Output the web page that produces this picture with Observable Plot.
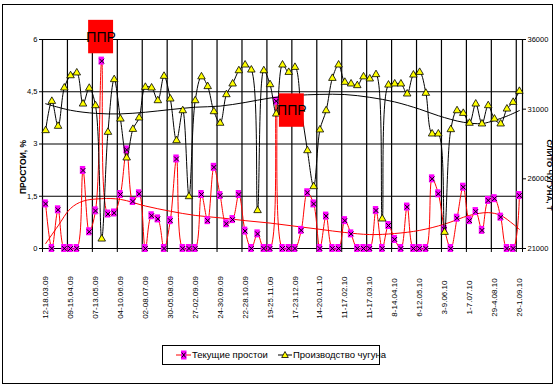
<!DOCTYPE html>
<html><head><meta charset="utf-8">
<script src="https://cdn.jsdelivr.net/npm/d3@7"></script>
<script src="https://cdn.jsdelivr.net/npm/@observablehq/plot@0.6"></script>
<style>
body{margin:0;background:#fff;}
#wrap{position:relative;width:558px;height:388px;overflow:hidden;font-family:"Liberation Sans Narrow","Arial Narrow","Liberation Sans",Arial,sans-serif;}
#wrap svg.plot{position:absolute;left:0;top:0;}
#border{position:absolute;left:2px;top:4px;width:551px;height:380px;border:1px solid #000;box-sizing:border-box;}
#legend{position:absolute;left:162px;top:345px;width:218px;height:20px;border:1px solid #000;box-sizing:border-box;font-size:9.5px;background:#fff;}
#legend .it{position:absolute;top:2px;height:14px;line-height:14px;white-space:nowrap;}
#legend svg{vertical-align:middle;}
.ytitle{position:absolute;font-weight:bold;white-space:nowrap;}
</style></head>
<body><div id="wrap"><div id="border"></div></div>
<script>
const tickLabels = ["12-18.03.09","09-15.04.09","07-13.05.09","04-10.06.09","02-08.07.09","30-05.08.09","27-02.09.09","24-30.09.09","22-28.10.09","19-25.11.09","17-23.12.09","14-20.01.10","11-17.02.10","11-17.03.10","8-14.04.10","6-12.05.10","3-9.06.10","1-7.07.10","29-4.08.10","26-1.09.10"];

const downtime = [1.28,0,1.11,0,0,0,2.24,0.48,1.08,5.38,0.99,1.02,1.55,2.83,1.35,1.57,0,0.94,0.85,0,0.80,2.57,0,0,0,1.55,
0.80,2.33,1.52,0.71,0.83,1.55,0.50,0,0.42,0,0,4.23,0,0,0,0.52,1.60,1.28,0,0.93,0,0,0.80,0.42,0,
0,0,1.09,0,0.66,0.26,0,1.19,0,0,0,2.0,1.57,0.54,0,0.87,1.76,0.80,1.06,0.52,1.38,1.43,0.90,0,0,1.52];

const production = [29470,31570,29780,32530,33410,33610,31380,32510,31260,21690,29350,33130,30300,27510,29560,30380,32580,32530,31620,33370,31740,28750,30900,24730,31620,33330,
32630,30830,30000,32050,32820,33770,34180,33820,23730,33770,32770,30660,34180,33650,34010,31000,28030,25450,29520,30900,33220,34180,32940,32820,32700,
33330,33180,33490,23130,32740,32820,32820,32100,33460,33650,32150,29230,29230,22170,29540,30900,30710,30000,31380,29950,31260,30300,29950,31020,31500,32290];

const downTrendIdx = [0,2,4,6,9,12,16,20,24,28,32,36,40,44,48,52,56,60,64,68,71,73,75,76];
const downTrendVal = [0.14,0.65,1.15,1.36,1.43,1.41,1.22,1.07,0.95,0.88,0.80,0.73,0.64,0.55,0.46,0.40,0.43,0.52,0.70,0.95,1.03,0.95,0.70,0.55];

const prodTrendIdx = [0,4,8,12,16,20,24,28,32,36,40,44,48,52,56,60,63,67,70,72,74,76];
const prodTrendVal = [31390,30920,30700,30660,30780,30970,31140,31220,31480,31800,31980,32060,32050,31850,31520,31000,30530,30060,29970,30190,30500,30900];

const leftTicks = [0,1.5,3,4.5,6];
const rightTicks = [21000,26000,31000,36000];

const pprIdx = [8.9, 39.5];
const pprVal = [6.07, 3.96];
const pprText = ["ППР","ППР"];

const N = downtime.length;
const rMin = 21000, rMax = 36000;
const toLeft = v => (v - rMin) / (rMax - rMin) * 6;

const downData = downtime.map((v,i)=>({i, v}));
const prodData = production.map((v,i)=>({i, v: toLeft(v)}));
const downTrend = downTrendIdx.map((i,k)=>({i, v: downTrendVal[k]}));
const prodTrend = prodTrendIdx.map((i,k)=>({i, v: toLeft(prodTrendVal[k])}));
const ppr = pprIdx.map((i,k)=>({i, v: pprVal[k], t: pprText[k]}));
const labelPos = tickLabels.map((t,k)=>({i: k*4, t}));
const gridPos = d3.range(3.5, N - 0.5, 4);
const tickPos = [-0.5, ...gridPos, N - 0.5];

const font = '"Liberation Sans Narrow","Arial Narrow","Liberation Sans",Arial,sans-serif';

const chart = Plot.plot({
  width: 558, height: 388,
  marginLeft: 42, marginRight: 36, marginTop: 39, marginBottom: 140,
  x: {domain: [-0.5, N - 0.5], axis: null},
  y: {domain: [0, 6], axis: null},
  style: {fontFamily: font, fontSize: "7.5px", background: "transparent", color: "#000"},
  marks: [
    Plot.gridY([1.5,3,4.5,6], {stroke: "#000", strokeOpacity: 1, strokeWidth: 1.2}),
    Plot.gridX(gridPos, {stroke: "#000", strokeOpacity: 1, strokeWidth: 1.2}),
    Plot.ruleX([-0.5], {stroke: "#000", strokeWidth: 1.2}),
    Plot.ruleX([N - 0.5], {stroke: "#000", strokeWidth: 1.2}),
    Plot.ruleY([0], {stroke: "#000", strokeWidth: 1.2}),
    Plot.axisY(leftTicks, {anchor: "left", tickSize: 3, tickPadding: 2, label: null, fontSize: 7.5,
      tickFormat: d => String(d).replace(".", ",")}),
    Plot.axisY(rightTicks.map(toLeft), {anchor: "right", tickSize: 3, tickPadding: 2, label: null, fontSize: 7.5,
      tickFormat: d => String(Math.round(rMin + d / 6 * (rMax - rMin)))}),
    Plot.axisX(tickPos, {anchor: "bottom", tickSize: 4, tickFormat: () => "", label: null}),
    Plot.text(labelPos, {x: "i", frameAnchor: "bottom", dy: 49, rotate: -90, text: "t", textAnchor: "middle", lineAnchor: "middle", fontSize: 8}),
    // downtime series
    Plot.line(downTrend, {x: "i", y: "v", stroke: "#ff0000", strokeWidth: 1, curve: "catmull-rom"}),
    Plot.line(downData, {x: "i", y: "v", stroke: "#ff0000", strokeWidth: 1, curve: "catmull-rom"}),
    Plot.rect(downData, {x1: d => d.i - 0.43, x2: d => d.i + 0.43, y1: d => d.v - 0.115, y2: d => d.v + 0.115, fill: "#ff00ff"}),
    Plot.dot(downData, {x: "i", y: "v", symbol: "times", r: 2.3, stroke: "#000", strokeWidth: 1}),
    // production series
    Plot.line(prodTrend, {x: "i", y: "v", stroke: "#000", strokeWidth: 1, curve: "catmull-rom"}),
    Plot.line(prodData, {x: "i", y: "v", stroke: "#000", strokeWidth: 1, curve: "catmull-rom"}),
    Plot.dot(prodData, {x: "i", y: "v", symbol: "triangle", r: 2.8, fill: "#ffff00", stroke: "#000", strokeWidth: 0.8}),
    // annotations
    Plot.rect(ppr, {x1: d => d.i - 2, x2: d => d.i + 2, y1: d => d.v - 0.48, y2: d => d.v + 0.48, fill: "#ff0000"}),
    Plot.text(ppr, {x: "i", y: "v", text: "t", fill: "#000", fontSize: 14})
  ]
});
chart.classList.add("plot");
const wrap = document.getElementById("wrap");
wrap.appendChild(chart);

// axis titles
const lt = document.createElement("div");
lt.className = "ytitle"; lt.textContent = "ПРОСТОИ, %";
lt.style.fontSize = "8.5px";
lt.style.left = "23px"; lt.style.top = "167px";
lt.style.transform = "translate(-50%,-50%) rotate(-90deg)";
wrap.appendChild(lt);
const rt = document.createElement("div");
rt.className = "ytitle"; rt.textContent = "СЛИТО ЧУГУНА, Т";
rt.style.fontSize = "8px";
rt.style.left = "549px"; rt.style.top = "175px";
rt.style.transform = "translate(-50%,-50%) rotate(90deg)";
wrap.appendChild(rt);

// legend
const lg = document.createElement("div");
lg.id = "legend";
lg.innerHTML =
 '<div class="it" style="left:13px"><svg width="16" height="12"><line x1="0" y1="6" x2="15" y2="6" stroke="#ff0000"/><rect x="5" y="1.5" width="5.5" height="9" fill="#ff00ff"/><path d="M5.8 3.5L9.7 8.5M9.7 3.5L5.8 8.5" stroke="#000" stroke-width="1"/></svg><span>Текущие простои</span></div>' +
 '<div class="it" style="left:115px"><svg width="15" height="12"><line x1="0" y1="6" x2="14" y2="6" stroke="#000"/><path d="M7 2.5L10.3 8.5L3.7 8.5Z" fill="#ffff00" stroke="#000" stroke-width="0.8"/></svg><span>Производство чугуна</span></div>';
wrap.appendChild(lg);
</script>
</body></html>
